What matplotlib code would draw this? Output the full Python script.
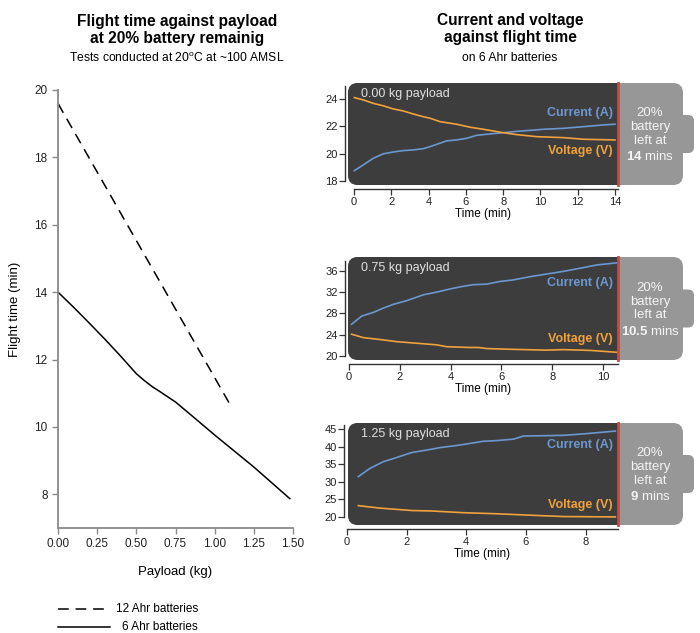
import matplotlib
matplotlib.use("Agg")
import matplotlib.pyplot as plt
from matplotlib.patches import FancyBboxPatch, Rectangle
import numpy as np

plt.rcParams['font.family'] = ['Liberation Sans', 'DejaVu Sans']
plt.rcParams['mathtext.fontset'] = 'custom'
plt.rcParams['mathtext.rm'] = 'Liberation Sans'
plt.rcParams['mathtext.bf'] = 'Liberation Sans:bold'

# --- left chart: flight time against payload ---
payload_12ah = [0.00, 1.10]
flight_12ah = [19.6, 10.65]
payload_6ah = [0.00, 0.10, 0.20, 0.30, 0.40, 0.50, 0.55, 0.60, 0.65, 0.75, 0.85, 1.00, 1.25, 1.48]
flight_6ah = [14.00, 13.55, 13.08, 12.60, 12.10, 11.58, 11.38, 11.20, 11.05, 10.74, 10.35, 9.76, 8.81, 7.87]
payload_ticks = [0.00, 0.25, 0.50, 0.75, 1.00, 1.25, 1.50]
flight_ticks = [8, 10, 12, 14, 16, 18, 20]

# --- right panels: current and voltage against time (6 Ahr) ---
payload_labels = ["0.00 kg payload", "0.75 kg payload", "1.25 kg payload"]
end_times = [14, 10.5, 9]

time_c_000 = [0.02, 0.5, 1.04, 1.57, 2.11, 2.65, 3.18, 3.72, 4.08, 4.61, 4.97, 5.51, 6.05,
              6.58, 7.3, 8.01, 8.73, 9.44, 10.16, 11.23, 12.3, 13.37, 14.0]
current_000 = [18.75, 19.17, 19.66, 19.98, 20.12, 20.22, 20.27, 20.36, 20.51, 20.76, 20.93, 21.0,
               21.12, 21.34, 21.44, 21.53, 21.63, 21.7, 21.78, 21.85, 21.97, 22.1, 22.15]
time_v_000 = [0.02, 0.5, 1.04, 1.57, 2.11, 2.65, 3.18, 3.72, 4.08, 4.61, 5.51, 6.23, 6.94,
              8.01, 8.73, 9.8, 11.23, 12.3, 14.0]
voltage_000 = [24.1, 23.93, 23.68, 23.5, 23.27, 23.12, 22.9, 22.7, 22.59, 22.34, 22.15, 21.93,
               21.78, 21.53, 21.39, 21.24, 21.17, 21.05, 21.0]

time_c_075 = [0.1, 0.5, 0.96, 1.35, 1.74, 2.27, 2.93, 3.45, 3.98, 4.5, 4.9, 5.42, 5.94, 6.47,
              7.13, 7.78, 8.44, 9.22, 9.75, 10.54]
current_075 = [25.97, 27.5, 28.2, 29.0, 29.7, 30.4, 31.5, 32.0, 32.6, 33.1, 33.4, 33.5, 34.0,
               34.3, 34.9, 35.4, 35.9, 36.6, 37.1, 37.5]
time_v_075 = [0.1, 0.56, 1.22, 1.87, 2.66, 3.45, 3.84, 4.75, 5.1, 5.42, 6.47, 7.78, 8.44, 9.5, 10.54]
voltage_075 = [24.1, 23.45, 23.1, 22.7, 22.4, 22.1, 21.75, 21.6, 21.6, 21.4, 21.25, 21.1, 21.2,
               21.05, 20.7]

time_c_125 = [0.38, 0.77, 1.22, 1.67, 2.17, 2.67, 3.12, 3.68, 4.13, 4.57, 5.02, 5.58, 5.92,
              6.7, 7.26, 7.93, 9.0]
current_125 = [31.45, 33.8, 35.7, 36.9, 38.3, 39.0, 39.7, 40.3, 40.9, 41.5, 41.7, 42.1, 43.0,
               43.1, 43.2, 43.6, 44.4]
time_v_125 = [0.38, 1.1, 2.2, 2.8, 3.9, 5.0, 6.1, 7.26, 9.0]
voltage_125 = [23.2, 22.5, 21.8, 21.7, 21.2, 20.9, 20.5, 20.1, 20.0]

time_ticks = [[0, 2, 4, 6, 8, 10, 12, 14], [0, 2, 4, 6, 8, 10], [0, 2, 4, 6, 8]]
value_ticks = [[18, 20, 22, 24], [20, 24, 28, 32, 36], [20, 25, 30, 35, 40, 45]]

CURRENT = '#6b98cf'
VOLTAGE = '#f0a23c'
DARK = '#3d3d3d'
GREY = '#979797'
RED = '#dd3f3a'

W, H = 700, 633
fig = plt.figure(figsize=(W / 100, H / 100), dpi=100)


def box(x0, y0, x1, y1):
    """pixel box (top-left origin) -> figure fraction rect"""
    return [x0 / W, 1 - y1 / H, (x1 - x0) / W, (y1 - y0) / H]


# background axes in pixel units for decorations and free text
bg = fig.add_axes([0, 0, 1, 1], zorder=0)
bg.set_xlim(0, W)
bg.set_ylim(H, 0)
bg.axis('off')

# ---------------- left chart ----------------
ax = fig.add_axes(box(58, 90, 293, 528), zorder=1)
ax.plot(payload_12ah, flight_12ah, color='black', lw=1.1, ls=(0, (7, 4.5)))
ax.plot(payload_6ah, flight_6ah, color='black', lw=1.1)
ax.set_xlim(0, 1.5)
ax.set_ylim(7, 20)
ax.set_xticks(payload_ticks)
ax.set_xticklabels([f"{v:.2f}" for v in payload_ticks])
ax.set_yticks(flight_ticks)
for s in ['top', 'right']:
    ax.spines[s].set_visible(False)
for s in ['left', 'bottom']:
    ax.spines[s].set_color('#8a8a8a')
    ax.spines[s].set_linewidth(1.3)
ax.tick_params(colors='#8a8a8a', labelcolor='#222222', labelsize=8.5, length=4, width=1)
ax.patch.set_visible(False)

bg.text(15, 309, "Flight time (min)", rotation=90, ha='center', va='center', fontsize=9.5)
bg.text(175, 572, "Payload (kg)", ha='center', va='center', fontsize=9.5)
bg.text(177, 30, "Flight time against payload\nat 20% battery remainig", ha='center',
        va='center', fontsize=11.2, fontweight='bold', linespacing=1.15)
bg.text(177, 58, "Tests conducted at 20$^{\\mathrm{o}}$C at ~100 AMSL", ha='center',
        va='center', fontsize=8.7)

# legend
bg.plot([58, 110], [609, 609], color='black', lw=1.1, ls=(0, (7, 4.5)))
bg.plot([58, 110], [627, 627], color='black', lw=1.1)
bg.text(198, 609, "12 Ahr batteries", ha='right', va='center', fontsize=8.5)
bg.text(198, 627, "6 Ahr batteries", ha='right', va='center', fontsize=8.5)

# ---------------- right panels ----------------
bg.text(510, 29, "Current and voltage\nagainst flight time", ha='center', va='center',
        fontsize=11.2, fontweight='bold', linespacing=1.15)
bg.text(510, 58, "on 6 Ahr batteries", ha='center', va='center', fontsize=8.7)

panels = [
    dict(tc=time_c_000, c=current_000, tv=time_v_000, v=voltage_000,
         rect=(83, 185), left=348, xlim=(-0.32, 14.16), ylim=(17.7, 25.17),
         ytop=24.95, cur_y=30, vol_y=68),
    dict(tc=time_c_075, c=current_075, tv=time_v_075, v=voltage_075,
         rect=(257, 360), left=348, xlim=(-0.04, 10.59), ylim=(19.25, 38.6),
         ytop=37.9, cur_y=26, vol_y=82),
    dict(tc=time_c_125, c=current_125, tv=time_v_125, v=voltage_125,
         rect=(423, 525), left=347, xlim=(0.0, 9.09), ylim=(17.7, 46.7),
         ytop=46.1, cur_y=22, vol_y=82),
]

for i, p in enumerate(panels):
    y0, y1 = p['rect']
    h = y1 - y0
    cy = (y0 + y1) / 2
    # battery body
    bg.add_patch(FancyBboxPatch((674, cy - 19), 20, 38, boxstyle="round,pad=0,rounding_size=6",
                                fc=GREY, ec='none'))
    bg.add_patch(FancyBboxPatch((348, y0), 683 - 348, h, boxstyle="round,pad=0,rounding_size=10",
                                fc=GREY, ec='none'))
    bg.add_patch(FancyBboxPatch((348, y0), 632 - 348, h, boxstyle="round,pad=0,rounding_size=10",
                                fc=DARK, ec='none'))
    bg.add_patch(Rectangle((618, y0), 22, h, fc=GREY, ec='none'))

    t_end = end_times[i]
    bg.text(650, cy - 7, "20%\nbattery\nleft at", ha='center', va='center', color='#f4f4f4',
            fontsize=9.5, linespacing=1.2)
    bg.text(650, cy + 23, f"$\\mathbf{{{t_end:g}}}$ mins", ha='center', va='center',
            color='#f4f4f4', fontsize=9.5)
    bg.text(361, y0 + 11, payload_labels[i], ha='left', va='center', color='#e0e0e0', fontsize=9)
    bg.text(613, y0 + p['cur_y'], "Current (A)", ha='right', va='center', color=CURRENT,
            fontsize=9, fontweight='bold')
    bg.text(613, y0 + p['vol_y'], "Voltage (V)", ha='right', va='center', color=VOLTAGE,
            fontsize=9, fontweight='bold')

    a = fig.add_axes(box(p['left'], y0, 618, y1), zorder=2)
    a.patch.set_visible(False)
    a.plot(p['tc'], p['c'], color=CURRENT, lw=1.2)
    a.plot(p['tv'], p['v'], color=VOLTAGE, lw=1.2)
    a.set_xlim(*p['xlim'])
    a.set_ylim(*p['ylim'])
    a.axvline(p['xlim'][1], color=RED, lw=2.0, clip_on=False)
    a.set_xticks(time_ticks[i])
    a.set_yticks(value_ticks[i])
    for s in ['top', 'right']:
        a.spines[s].set_visible(False)
    a.spines['left'].set_position(('outward', 2))
    a.spines['bottom'].set_position(('outward', 3.2))
    a.spines['left'].set_bounds(value_ticks[i][0], p['ytop'])
    a.spines['bottom'].set_bounds(0, p['xlim'][1])
    for s in ['left', 'bottom']:
        a.spines[s].set_color('#333333')
        a.spines[s].set_linewidth(1.0)
    a.tick_params(labelsize=8, length=4, width=0.9, pad=1.5, colors='#333333',
                  labelcolor='#222222')
    a.set_xlabel("Time (min)", fontsize=8.5, labelpad=1)

fig.savefig("out.png", dpi=100)
